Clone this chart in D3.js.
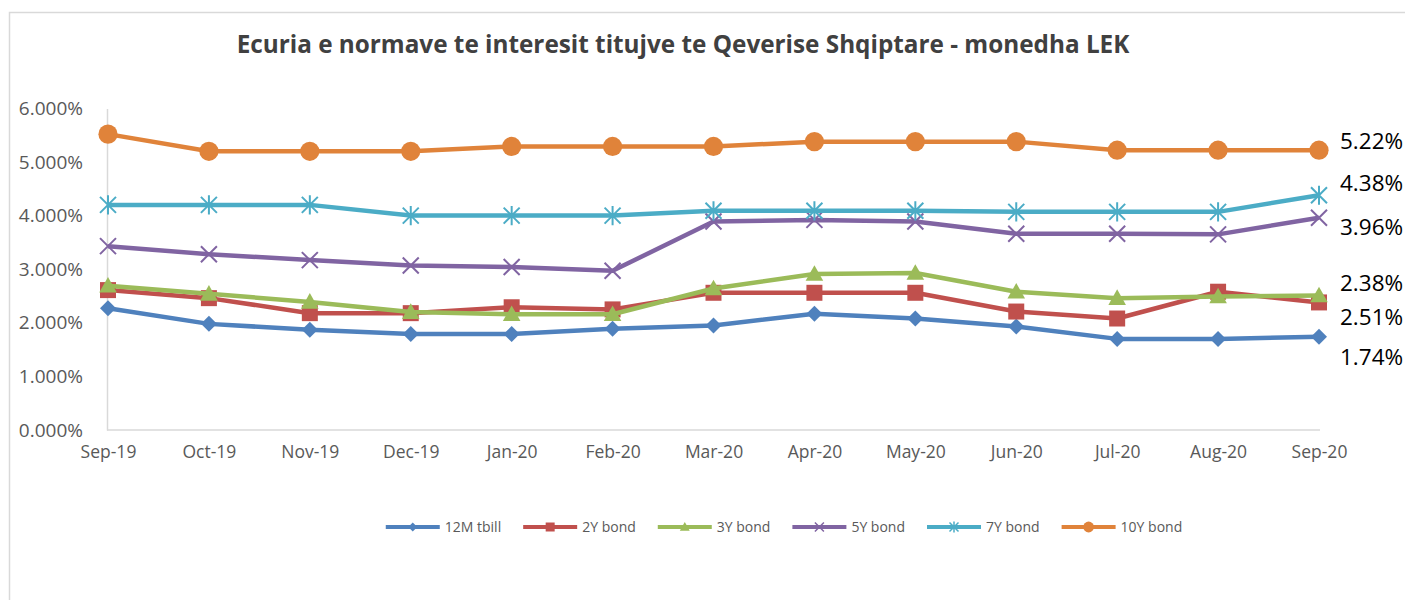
<!DOCTYPE html>
<html>
<head>
<meta charset="utf-8">
<script src="https://cdn.jsdelivr.net/npm/d3@7"></script>
<style>
  body { margin: 0; background: #fff; }
  text { font-family: "Open Sans", "Noto Sans", sans-serif; }
</style>
</head>
<body>
<div id="chart"></div>
<script>
const months = ['Sep-19', 'Oct-19', 'Nov-19', 'Dec-19', 'Jan-20', 'Feb-20', 'Mar-20',
    'Apr-20', 'May-20', 'Jun-20', 'Jul-20', 'Aug-20', 'Sep-20'];

const tbill12M = [2.27, 1.98, 1.87, 1.79, 1.79, 1.89, 1.95, 2.17, 2.08, 1.93, 1.70, 1.70, 1.74];
const bond2Y = [2.61, 2.46, 2.18, 2.18, 2.29, 2.25, 2.56, 2.56, 2.56, 2.21, 2.08, 2.58, 2.38];
const bond3Y = [2.69, 2.54, 2.39, 2.20, 2.16, 2.16, 2.64, 2.91, 2.93, 2.58, 2.46, 2.49, 2.51];
const bond5Y = [3.43, 3.28, 3.17, 3.07, 3.04, 2.97, 3.89, 3.92, 3.89, 3.66, 3.66, 3.65, 3.96];
const bond7Y = [4.20, 4.20, 4.20, 4.00, 4.00, 4.00, 4.09, 4.09, 4.09, 4.07, 4.07, 4.07, 4.38];
const bond10Y = [5.52, 5.20, 5.20, 5.20, 5.29, 5.29, 5.29, 5.38, 5.38, 5.38, 5.22, 5.22, 5.22];

const seriesNames = ['12M tbill', '2Y bond', '3Y bond', '5Y bond', '7Y bond', '10Y bond'];
const seriesColors = ['#4F81BD', '#C0504D', '#9BBB59', '#8064A2', '#4BACC6', '#E0833A'];
const seriesMarkers = ['diamond', 'square', 'triangle', 'x', 'star', 'circle'];

const yTicks = [0, 1, 2, 3, 4, 5, 6];

// labels typed next to the last point (as in the source image)
const endLabels = ['5.22%', '4.38%', '3.96%', '2.38%', '2.51%', '1.74%'];
const endLabelAt = [5.39, 4.61, 3.79, 2.74, 2.11, 1.36];

const title = 'Ecuria e normave te interesit titujve te Qeverise Shqiptare - monedha LEK';

const width = 1405;
const height = 600;
const allSeries = [tbill12M, bond2Y, bond3Y, bond5Y, bond7Y, bond10Y];

const svg = d3.select('#chart')
    .append('svg')
    .attr('width', width)
    .attr('height', height);

// chart frame
svg.append('rect')
    .attr('x', 9.5)
    .attr('y', 12.5)
    .attr('width', width + 20)
    .attr('height', height)
    .attr('fill', 'none')
    .attr('stroke', '#D9D9D9')
    .attr('stroke-width', 1.5);

const x = d3.scalePoint()
    .domain(months)
    .range([108, 1319]);

const y = d3.scaleLinear()
    .domain([0, 6])
    .range([430, 108.4]);

// title
svg.append('text')
    .attr('x', 683)
    .attr('y', 53)
    .attr('text-anchor', 'middle')
    .attr('font-size', 24.3)
    .attr('font-weight', 'bold')
    .attr('fill', '#404040')
    .text(title);

// axes
const yAxis = svg.append('g')
    .attr('transform', 'translate(107,0)')
    .call(d3.axisLeft(y).tickValues(yTicks).tickSize(0).tickPadding(24)
        .tickFormat(d => d3.format('.3f')(d) + '%'));
yAxis.select('.domain').attr('stroke', '#D9D9D9').attr('stroke-width', 1.5);
yAxis.selectAll('text')
    .attr('font-size', 19)
    .attr('fill', '#595959')
    .style('font-family', '"Open Sans", sans-serif');

const xAxis = svg.append('g')
    .attr('transform', 'translate(0,430)')
    .call(d3.axisBottom(x).tickSize(0).tickPadding(16));
xAxis.select('.domain').attr('stroke', '#D9D9D9').attr('stroke-width', 1.5)
    .attr('d', 'M107,0H1320');
xAxis.selectAll('text')
    .attr('font-size', 17.5)
    .attr('fill', '#595959')
    .style('font-family', '"Open Sans", sans-serif');

function markerPath(type, s) {
    if (type === 'diamond') return `M0,${-s}L${s},0L0,${s}L${-s},0Z`;
    if (type === 'square') return `M${-s},${-s}H${s}V${s}H${-s}Z`;
    if (type === 'triangle') return `M0,${-s * 1.1}L${s * 1.1},${s * 0.85}L${-s * 1.1},${s * 0.85}Z`;
    if (type === 'x') return `M${-s},${-s}L${s},${s}M${-s},${s}L${s},${-s}`;
    if (type === 'star') return `M${-s},${-s}L${s},${s}M${-s},${s}L${s},${-s}M0,${-s * 1.2}V${s * 1.2}`;
    return '';
}

function drawMarker(g, type, color, s) {
    if (type === 'circle') {
        g.append('circle').attr('r', s * 1.2).attr('fill', color);
    } else if (type === 'x' || type === 'star') {
        g.append('path').attr('d', markerPath(type, s))
            .attr('fill', 'none').attr('stroke', color).attr('stroke-width', Math.max(1.5, s / 4));
    } else {
        g.append('path').attr('d', markerPath(type, s)).attr('fill', color);
    }
}

const line = d3.line()
    .x((d, i) => x(months[i]))
    .y(d => y(d));

allSeries.forEach((values, k) => {
    const g = svg.append('g').attr('class', 'series');
    g.append('path')
        .datum(values)
        .attr('d', line)
        .attr('fill', 'none')
        .attr('stroke', seriesColors[k])
        .attr('stroke-width', 4.5)
        .attr('stroke-linejoin', 'round');

    g.selectAll('g.mk')
        .data(values)
        .enter()
        .append('g')
        .attr('class', 'mk')
        .attr('transform', (d, i) => `translate(${x(months[i])},${y(d)})`)
        .each(function () {
            drawMarker(d3.select(this), seriesMarkers[k], seriesColors[k], 8);
        });
});

// end labels
svg.selectAll('text.endLabel')
    .data(endLabels)
    .enter()
    .append('text')
    .attr('class', 'endLabel')
    .attr('x', 1340)
    .attr('y', (d, i) => y(endLabelAt[i]))
    .attr('dy', '0.35em')
    .attr('font-size', 22.5)
    .attr('fill', '#000')
    .text(d => d);

// legend
const legend = svg.append('g').attr('class', 'legend');
const legendLine = 54;
const legendGap = 22;
let lx = 0;
seriesNames.forEach((name, k) => {
    const item = legend.append('g').attr('transform', `translate(${lx},527)`);
    item.append('line')
        .attr('x1', 0).attr('x2', legendLine)
        .attr('stroke', seriesColors[k])
        .attr('stroke-width', 4);
    const m = item.append('g').attr('transform', `translate(${legendLine / 2},0)`);
    drawMarker(m, seriesMarkers[k], seriesColors[k], 4.5);
    const t = item.append('text')
        .attr('x', legendLine + 5)
        .attr('dy', '0.35em')
        .attr('font-size', 14)
        .attr('fill', '#595959')
        .text(name);
    lx += legendLine + 5 + t.node().getComputedTextLength() + legendGap;
});
legend.attr('transform', `translate(${784 - (lx - legendGap) / 2},0)`);
</script>
</body>
</html>
